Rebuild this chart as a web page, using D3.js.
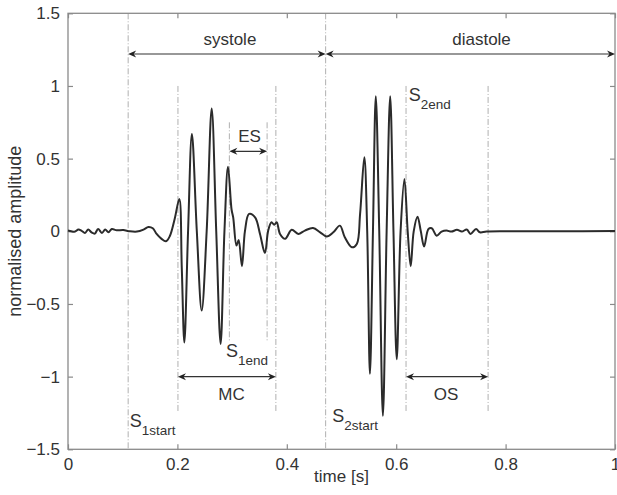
<!DOCTYPE html>
<html lang="en">
<head>
<meta charset="UTF-8">
<title>Heart sound segmentation</title>
<script src="https://d3js.org/d3.v7.min.js"></script>
<style>
  body { margin: 0; background: #fff; font-family: "Liberation Sans", Arial, sans-serif; }
  .frame { fill: none; stroke: #8a8a8a; stroke-width: 1.3; }
  .axis path { display: none; }
  .axis line { stroke: #8a8a8a; stroke-width: 1.2; }
  .axis text { fill: #333; font-size: 17px; font-family: "Liberation Sans", Arial, sans-serif; }
  .signal { fill: none; stroke: #2b2b2b; stroke-width: 2; stroke-linejoin: round; }
  .marker { stroke: #b0b0b0; stroke-width: 1; stroke-dasharray: 6 2 1 2; }
  .span { stroke: #333; stroke-width: 1.2; }
  .head { fill: #222; }
  .lbl { fill: #333; font-size: 17px; }
</style>
</head>
<body>
<script>
// signal (time in s, normalised amplitude)
const timeS = [
  0.000, 0.006, 0.013, 0.019, 0.025, 0.031, 0.037, 0.043, 0.049, 0.055,
  0.062, 0.068, 0.074, 0.080, 0.089, 0.101, 0.113, 0.126, 0.138, 0.147,
  0.155, 0.162, 0.171, 0.179, 0.186, 0.195, 0.2035, 0.208, 0.2127, 0.2195,
  0.2265, 0.2355, 0.2444, 0.2535, 0.2627, 0.271, 0.279, 0.286, 0.2925, 0.299,
  0.302, 0.308, 0.312, 0.318, 0.3236, 0.331, 0.342, 0.351, 0.360, 0.366,
  0.372, 0.377, 0.3815, 0.3876, 0.397, 0.409, 0.421, 0.433, 0.448, 0.461,
  0.473, 0.485, 0.497, 0.506, 0.519, 0.528, 0.534, 0.5417, 0.547, 0.552,
  0.5575, 0.5627, 0.569, 0.5757, 0.5825, 0.589, 0.595, 0.601, 0.608, 0.615,
  0.621, 0.6265, 0.632, 0.639, 0.645, 0.651, 0.659, 0.665, 0.674, 0.683,
  0.692, 0.701, 0.711, 0.720, 0.729, 0.736, 0.746, 0.753, 0.765, 0.800,
  0.900, 1.000
];
const amplitude = [
  0.005, 0.000, -0.002, 0.012, 0.003, -0.011, 0.012, -0.007, -0.016, 0.016,
  -0.011, 0.012, -0.007, 0.016, 0.007, 0.009, 0.000, -0.002, 0.012, 0.030,
  0.021, -0.018, -0.052, -0.069, -0.034, 0.085, 0.222, -0.25, -0.765, 0.0,
  0.670, 0.0, -0.545, 0.0, 0.845, 0.0, -0.775, 0.0, 0.445, 0.15,
  0.096, -0.098, -0.060, -0.240, 0.005, 0.120, 0.096, -0.018, -0.150, 0.005,
  0.062, 0.045, 0.062, -0.018, -0.052, 0.010, -0.018, 0.005, 0.023, -0.007,
  -0.036, -0.007, 0.039, -0.041, -0.110, -0.087, 0.120, 0.509, 0.0, -0.980,
  0.0, 0.930, 0.0, -1.270, 0.0, 0.930, 0.0, -0.880, 0.0, 0.360,
  0.0, -0.240, 0.0, 0.100, 0.0, -0.105, 0.016, 0.021, -0.030, -0.002,
  0.005, -0.002, 0.010, -0.002, 0.012, -0.018, 0.016, -0.007, -0.002, 0.000,
  0.000, 0.002
];

const xTicks = [0, 0.2, 0.4, 0.6, 0.8, 1];
const yTicks = [-1.5, -1, -0.5, 0, 0.5, 1, 1.5];

// dash-dot boundary lines
const markerTimes = [0.110, 0.201, 0.295, 0.364, 0.380, 0.471, 0.618, 0.768];
const markerTop = [1.5, 1.0, 0.75, 0.75, 1.0, 1.5, 1.0, 1.0];
const markerBottom = [-1.5, -1.25, -0.76, -0.76, -1.25, -1.5, -1.25, -1.25];

// double-headed interval arrows
const spanNames = ["systole", "diastole", "ES", "MC", "OS"];
const spanFrom = [0.110, 0.471, 0.295, 0.201, 0.618];
const spanTo = [0.471, 1.0, 0.364, 0.380, 0.768];
const spanLevel = [1.22, 1.22, 0.55, -1.0, -1.0];
const spanLabelT = [0.296, 0.756, 0.332, 0.299, 0.691];
const spanLabelSide = ["above", "above", "above", "below", "below"];

// S labels with subscripts
const sSub = ["1start", "1end", "2start", "2end"];
const sT = [0.113, 0.289, 0.483, 0.623];
const sA = [-1.344, -0.867, -1.314, 0.899];

const W = 617, H = 495;
const margin = {top: 13.3, right: 2, bottom: 45.7, left: 68};
const width = W - margin.left - margin.right,
  height = H - margin.top - margin.bottom;

const svg = d3.select("body").append("svg")
  .attr("width", W)
  .attr("height", H)
  .append("g")
  .attr("transform", "translate(" + margin.left + "," + margin.top + ")");

const x = d3.scaleLinear().domain([0, 1]).range([0, width]);
const y = d3.scaleLinear().domain([-1.5, 1.5]).range([height, 0]);

// markers
svg.selectAll(".marker")
  .data(markerTimes)
  .enter().append("line")
  .attr("class", "marker")
  .attr("x1", d => x(d)).attr("x2", d => x(d))
  .attr("y1", (d, i) => y(markerTop[i]))
  .attr("y2", (d, i) => y(markerBottom[i]));

// axes, MATLAB style: ticks inward on all four sides
const fmt = d => d3.format("")(d).replace("-", "\u2212");
svg.append("g")
  .attr("class", "axis")
  .attr("transform", "translate(0," + height + ")")
  .call(d3.axisBottom(x).tickValues(xTicks).tickSize(-5).tickPadding(9).tickFormat(fmt));
svg.append("g")
  .attr("class", "axis")
  .call(d3.axisLeft(y).tickValues(yTicks).tickSize(-5).tickPadding(8).tickFormat(fmt));
svg.append("g")
  .attr("class", "axis")
  .call(d3.axisTop(x).tickValues(xTicks).tickSize(-5).tickFormat(""));
svg.append("g")
  .attr("class", "axis")
  .attr("transform", "translate(" + width + ",0)")
  .call(d3.axisRight(y).tickValues(yTicks).tickSize(-5).tickFormat(""));

svg.append("rect")
  .attr("class", "frame")
  .attr("width", width)
  .attr("height", height);

// signal
const pts = timeS.map((t, i) => [t, amplitude[i]]);
svg.append("path")
  .datum(pts)
  .attr("class", "signal")
  .attr("d", d3.line()
    .x(d => x(d[0]))
    .y(d => y(d[1]))
    .curve(d3.curveCatmullRom.alpha(0.5)));

// arrows
function head(px, py, dir) {
  const L = 8, w = 3.5, n = 2.5;
  return "M" + px + "," + py +
    "L" + (px - dir * L) + "," + (py - w) +
    "L" + (px - dir * (L - n)) + "," + py +
    "L" + (px - dir * L) + "," + (py + w) + "Z";
}

spanNames.forEach((name, i) => {
  const x0 = x(spanFrom[i]), x1 = x(spanTo[i]), yy = y(spanLevel[i]);
  svg.append("line")
    .attr("class", "span")
    .attr("x1", x0 + 3).attr("x2", x1 - 3)
    .attr("y1", yy).attr("y2", yy);
  svg.append("path").attr("class", "head").attr("d", head(x0, yy, -1));
  svg.append("path").attr("class", "head").attr("d", head(x1, yy, 1));
  svg.append("text")
    .attr("class", "lbl")
    .attr("x", x(spanLabelT[i]))
    .attr("y", yy + (spanLabelSide[i] == "above" ? -9 : 23))
    .attr("text-anchor", "middle")
    .text(name);
});

// S labels
sSub.forEach((sub, i) => {
  const t = svg.append("text")
    .attr("class", "lbl")
    .attr("x", x(sT[i]))
    .attr("y", y(sA[i]))
    .style("font-size", "18px");
  t.append("tspan").text("S");
  t.append("tspan")
    .attr("dy", 8)
    .style("font-size", "13.5px")
    .text(sub);
});

// axis titles
svg.append("text")
  .attr("class", "lbl")
  .attr("x", width / 2)
  .attr("y", height + 33)
  .attr("text-anchor", "middle")
  .text("time [s]");

svg.append("text")
  .attr("class", "lbl")
  .attr("transform", "rotate(-90)")
  .attr("x", -(y(0)))
  .attr("y", -47)
  .attr("text-anchor", "middle")
  .style("font-size", "18px")
  .text("normalised amplitude");
</script>
</body>
</html>
